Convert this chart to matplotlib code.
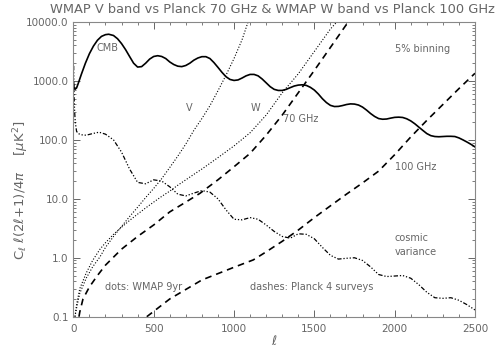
import numpy as np
import matplotlib
matplotlib.use('Agg')
import matplotlib.pyplot as plt
from matplotlib.ticker import FixedLocator, NullFormatter

# values
ell_cmb = [2, 5, 10, 20, 30, 50, 75, 100, 125, 150, 175, 200, 220, 250, 275,
           300, 325, 350, 375, 400, 425, 450, 475, 500, 525, 550, 575, 600,
           625, 650, 675, 700, 725, 750, 775, 800, 825, 850, 875, 900, 925,
           950, 975, 1000, 1025, 1050, 1075, 1100, 1125, 1150, 1175, 1200,
           1225, 1250, 1275, 1300, 1325, 1350, 1375, 1400, 1425, 1450, 1475,
           1500, 1525, 1550, 1575, 1600, 1625, 1650, 1675, 1700, 1725, 1750,
           1775, 1800, 1825, 1850, 1875, 1900, 1925, 1950, 1975, 2000, 2025,
           2050, 2075, 2100, 2125, 2150, 2175, 2200, 2225, 2250, 2275, 2300,
           2325, 2350, 2375, 2400, 2425, 2450, 2475, 2500]
cmb = [850, 760, 720, 760, 900, 1300, 2000, 2900, 3900, 4900, 5700, 6100,
       6200, 5900, 5200, 4300, 3400, 2600, 2000, 1720, 1750, 2000, 2350,
       2600, 2680, 2600, 2400, 2100, 1900, 1780, 1750, 1830, 2000, 2250,
       2450, 2580, 2580, 2400, 2050, 1700, 1400, 1180, 1060, 1020, 1040,
       1120, 1220, 1290, 1290, 1220, 1080, 930, 800, 720, 690, 690, 720, 770,
       820, 850, 860, 840, 780, 700, 600, 500, 430, 385, 368, 370, 382, 398,
       408, 405, 390, 360, 320, 280, 250, 230, 224, 226, 234, 241, 243, 240,
       228, 210, 188, 165, 145, 128, 118, 114, 113, 114, 115, 115, 114, 108,
       100, 92, 84, 76]

ell_cv = [2, 3, 5, 8, 12, 20, 30, 50, 80, 120, 160, 200, 250, 300, 350, 400,
          450, 500, 550, 600, 650, 700, 750, 800, 850, 900, 950, 1000, 1050,
          1100, 1150, 1200, 1250, 1300, 1350, 1400, 1450, 1500, 1550, 1600,
          1650, 1700, 1750, 1800, 1850, 1900, 1950, 2000, 2050, 2100, 2150,
          2200, 2250, 2300, 2350, 2400, 2450, 2500]
cosvar = [1800, 1000, 500, 300, 200, 140, 128, 122, 120, 128, 135, 125, 100,
          62, 32, 19, 18, 21, 20, 16, 12, 11.2, 12.5, 13.8, 13, 10, 6.5, 4.5,
          4.4, 4.8, 4.5, 3.6, 2.8, 2.3, 2.15, 2.55, 2.5, 2.1, 1.5, 1.1, 0.95,
          0.98, 1.0, 0.9, 0.7, 0.52, 0.48, 0.49, 0.5, 0.45, 0.35, 0.26, 0.21,
          0.205, 0.21, 0.19, 0.16, 0.13]

ell_v = [10, 20, 40, 80, 120, 166, 200, 250, 300, 350, 400, 450, 500, 550,
         600, 650, 700, 750, 800, 850, 900, 950, 1000, 1050, 1090]
wmap_v = [0.1, 0.14, 0.25, 0.45, 0.7, 1.04, 1.5, 2.3, 3.4, 5.0, 7.2, 10.5, 15,
          22, 34, 53, 85, 145, 230, 380, 680, 1250, 2400, 5000, 10500]

ell_w = [10, 20, 40, 80, 120, 166, 200, 250, 300, 350, 400, 450, 500, 550,
         600, 650, 700, 750, 800, 900, 1000, 1100, 1200, 1300, 1400, 1500,
         1600, 1660]
wmap_w = [0.1, 0.16, 0.3, 0.55, 0.9, 1.4, 1.8, 2.5, 3.3, 4.3, 5.5, 7, 8.8,
          11, 13.5, 17, 21, 26, 32, 50, 79, 132, 263, 630, 1320, 3160, 7600,
          11500]

ell_70 = [35, 40, 60, 100, 150, 200, 300, 400, 500, 600, 700, 788, 900, 1000,
          1100, 1200, 1300, 1400, 1500, 1600, 1700, 1730]
planck_70 = [0.1, 0.12, 0.2, 0.32, 0.5, 0.75, 1.4, 2.3, 3.6, 6, 8.8, 12.4,
             21, 35, 59, 120, 263, 630, 1510, 3700, 9100, 11500]

ell_100 = [457, 600, 800, 1000, 1120, 1200, 1300, 1400, 1500, 1600, 1700,
           1800, 1900, 2000, 2100, 2200, 2300, 2400, 2500]
planck_100 = [0.1, 0.2, 0.42, 0.69, 0.92, 1.26, 1.9, 2.95, 4.8, 7.6, 12, 18.6,
              29.5, 56, 112, 214, 398, 741, 1350]

GREY = '#666666'

fig = plt.figure(figsize=(5.0, 3.47), dpi=100)
ax = fig.add_axes([0.1467, 0.0873, 0.8033, 0.8493])

ax.plot(ell_cmb, cmb, color='k', lw=1.2)
ax.plot(ell_cv, cosvar, color='k', lw=0.9,
        linestyle=(0, (3.5, 1.5, 1, 1.5, 1, 1.5, 1, 1.5)))
ax.plot(ell_v, wmap_v, color='k', lw=0.8, linestyle=(0, (1, 1.6)))
ax.plot(ell_w, wmap_w, color='k', lw=0.8, linestyle=(0, (1, 1.6)))
ax.plot(ell_70, planck_70, color='k', lw=1.2, linestyle=(0, (4, 3)))
ax.plot(ell_100, planck_100, color='k', lw=1.2, linestyle=(0, (4, 3)))

ax.set_yscale('log')
ax.set_xlim(0, 2500)
ax.set_ylim(0.1, 10000)

# IDL style axes
ax.xaxis.set_major_locator(FixedLocator([0, 500, 1000, 1500, 2000, 2500]))
ax.xaxis.set_minor_locator(FixedLocator(np.arange(0, 2501, 100)))
yt = [0.1, 1, 10, 100, 1000, 10000]
ax.set_yticks(yt)
ax.set_yticklabels(['0.1', '1.0', '10.0', '100.0', '1000.0', '10000.0'])
ax.yaxis.set_minor_formatter(NullFormatter())
ax.tick_params(which='both', direction='in', top=True, right=True,
               colors=GREY, labelsize=7.5)
ax.tick_params(which='major', length=5, width=0.7)
ax.tick_params(which='minor', length=2.5, width=0.6)
ax.tick_params(axis='x', pad=5)
for sp in ax.spines.values():
    sp.set_color('#888888')
    sp.set_linewidth(0.8)

fig.text(0.545, 0.972, 'WMAP V band vs Planck 70 GHz & WMAP W band vs Planck 100 GHz',
         fontsize=9.35, color=GREY, ha='center', va='center')
ax.set_xlabel(r'$\ell$', color=GREY, fontsize=9, labelpad=0)
ax.set_ylabel(r'C$_\ell$ $\ell$(2$\ell$+1)/4$\pi$    [$\mu$K$^2$]', color=GREY,
              fontsize=9.5)
ax.yaxis.set_label_coords(-0.105, 0.43)

tk = dict(color=GREY, fontsize=7, va='center', ha='left')
ax.text(145, 3600, 'CMB', **tk)
ax.text(700, 345, 'V', **tk)
ax.text(1105, 345, 'W', **tk)
ax.text(1303, 224, '70 GHz', **tk)
ax.text(2002, 34, '100 GHz', **tk)
ax.text(2002, 3470, '5% binning', **tk)
ax.text(1998, 2.14, 'cosmic', **tk)
ax.text(1998, 1.24, 'variance', **tk)
ax.text(197, 0.32, 'dots: WMAP 9yr', **tk)
ax.text(1100, 0.32, 'dashes: Planck 4 surveys', **tk)

fig.savefig('out.png', dpi=100)
